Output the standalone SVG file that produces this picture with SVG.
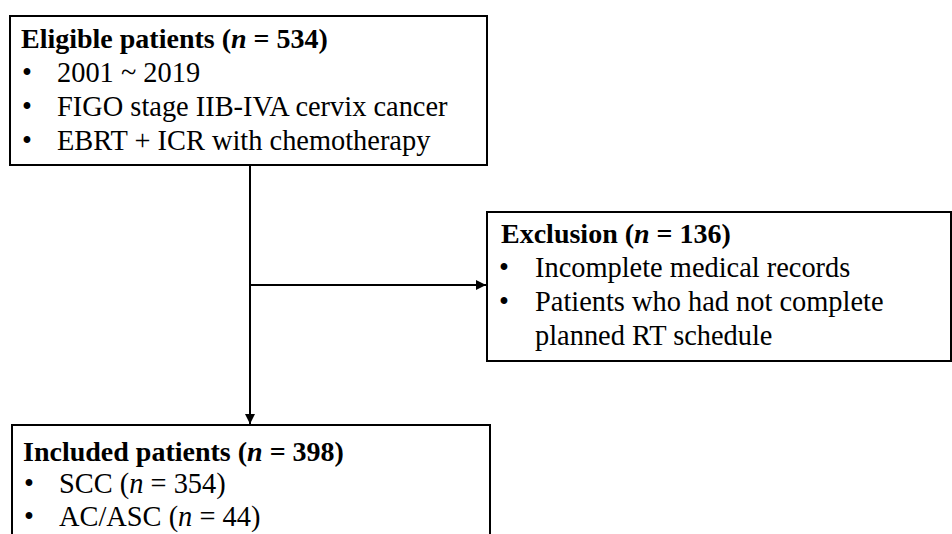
<svg xmlns="http://www.w3.org/2000/svg" width="952" height="534" viewBox="0 0 952 534">
<defs>
<style>
.box{fill:#fff;stroke:#000;stroke-width:2}
text{font-family:"Liberation Serif","Times New Roman","DejaVu Serif",serif;font-size:28.4px;fill:#000}
.t{font-weight:bold;font-size:28px}
.i{font-style:italic}
.ln{stroke:#000;stroke-width:2;fill:none}
</style>
<marker id="ah" viewBox="0 0 10 10" refX="10" refY="5" markerWidth="5" markerHeight="5" orient="auto" markerUnits="strokeWidth">
<path d="M0,0 L10,5 L0,10 z" fill="#000"/>
</marker>
</defs>
<rect width="952" height="534" fill="#fff"/>
<g id="connectors">
<line class="ln" x1="250" y1="165" x2="250" y2="424" marker-end="url(#ah)"/>
<line class="ln" x1="250" y1="285" x2="486" y2="285" marker-end="url(#ah)"/>
</g>
<g id="eligible">
<rect class="box" x="10" y="16" width="477" height="149"/>
<text x="21" y="48" class="t">Eligible patients (<tspan class="i">n</tspan> = 534)</text>
<text x="22" y="82">•</text><text x="57" y="82">2001 ~ 2019</text>
<text x="22" y="116">•</text><text x="57" y="116">FIGO stage IIB-IVA cervix cancer</text>
<text x="22" y="150">•</text><text x="57" y="150">EBRT + ICR with chemotherapy</text>
</g>
<g id="exclusion">
<rect class="box" x="487" y="212" width="464" height="149"/>
<text x="501" y="243" class="t">Exclusion (<tspan class="i">n</tspan> = 136)</text>
<text x="499" y="277">•</text><text x="535" y="277">Incomplete medical records</text>
<text x="499" y="311">•</text><text x="535" y="311">Patients who had not complete</text>
<text x="535" y="345">planned RT schedule</text>
</g>
<g id="included">
<rect class="box" x="12" y="425" width="478" height="130"/>
<text x="23" y="461" class="t">Included patients (<tspan class="i">n</tspan> = 398)</text>
<text x="24" y="493">•</text><text x="59" y="493">SCC (<tspan class="i">n</tspan> = 354)</text>
<text x="24" y="526">•</text><text x="59" y="526">AC/ASC (<tspan class="i">n</tspan> = 44)</text>
</g>
</svg>
